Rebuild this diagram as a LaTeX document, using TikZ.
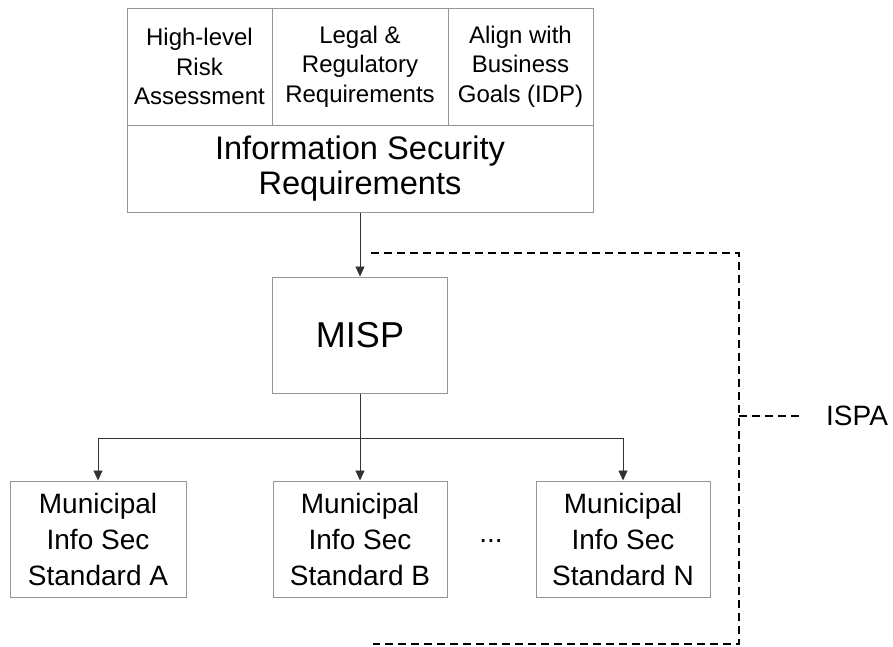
\documentclass[tikz,border=0pt]{standalone}
\usepackage{fontspec}
\setmainfont{Liberation Sans}
\usetikzlibrary{arrows.meta}
\definecolor{boxgray}{RGB}{150,150,150}
\definecolor{linegray}{RGB}{50,50,50}
\tikzset{
  cell/.style={draw=boxgray, line width=1pt, inner sep=0pt, align=center,
    minimum height=117pt, font=\fontsize{24}{29.5}\selectfont},
  bigbox/.style={draw=boxgray, line width=1pt, inner sep=0pt, align=center,
    minimum width=466pt, minimum height=87pt, font=\fontsize{32.6}{35}\selectfont},
  mispbox/.style={draw=boxgray, line width=1pt, inner sep=0pt, align=center,
    minimum width=175pt, minimum height=116pt, font=\fontsize{36}{40}\selectfont},
  stdbox/.style={draw=boxgray, line width=1pt, inner sep=0pt, align=center,
    minimum height=116pt, font=\fontsize{28}{36}\selectfont},
  conn/.style={draw=linegray, line width=0.9pt},
  arr/.style={conn, -{Triangle[length=10pt,width=9pt]}},
  dashline/.style={draw=black, line width=1.3pt, dash pattern=on 8pt off 5pt},
  lbl/.style={inner sep=0pt, font=\fontsize{28}{32}\selectfont}
}
\begin{document}
\begin{tikzpicture}[x=1pt,y=-1pt]
\useasboundingbox (0,0) rectangle (893,646);
% top cells
\node[cell, minimum width=145pt] (c1) at (199.5,66.5) {High-level\\Risk\\Assessment};
\node[cell, minimum width=176pt] (c2) at (360,66.5) {Legal \&\\Regulatory\\Requirements};
\node[cell, minimum width=145pt] (c3) at (520.5,66.5) {Align with\\Business\\Goals (IDP)};
\node[bigbox] (isr) at (360,168.5) {Information Security\\Requirements};
% MISP
\node[mispbox] (misp) at (360,335) {MISP};
% standards
\node[stdbox, minimum width=176pt] (stda) at (98,539) {Municipal\\Info Sec\\Standard A};
\node[stdbox, minimum width=174pt] (stdb) at (360,539) {Municipal\\Info Sec\\Standard B};
\node[stdbox, minimum width=174pt] (stdn) at (623,539) {Municipal\\Info Sec\\Standard N};
\node[lbl, anchor=base] (dots) at (491,542) {...};
\node[lbl, anchor=west] (ispa) at (826,416) {ISPA};
% connectors
\draw[arr] (isr.south) -- (misp.north);
\coordinate (br) at (360,438);
\draw[conn] (misp.south) -- (br);
\draw[arr] (br) -| (stda.north);
\draw[arr] (br) -- (stdb.north);
\draw[arr] (br) -| (stdn.north);
% dashed ISPA bracket
\coordinate (d1) at (371,253);
\coordinate (d2) at (739,253);
\coordinate (d3) at (739,644);
\coordinate (d4) at (373,644);
\coordinate (dm) at (739,416);
\coordinate (de) at (799,416);
\draw[dashline] (d1) -- (d2) -- (d3) -- (d4);
\draw[dashline] (dm) -- (de);
\end{tikzpicture}
\end{document}
